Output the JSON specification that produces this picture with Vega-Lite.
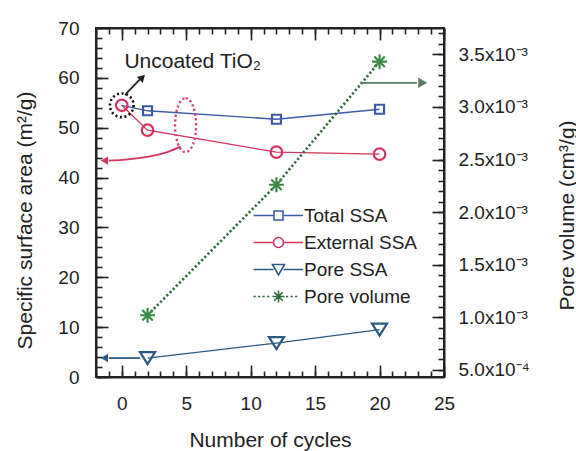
{
  "$schema": "https://vega.github.io/schema/vega-lite/v6.json",
  "width": 348,
  "height": 349,
  "autosize": "none",
  "padding": {"left": 96, "top": 28, "right": 132, "bottom": 74},
  "background": "white",
  "config": {
    "font": "Liberation Sans",
    "view": {"stroke": "#222", "strokeWidth": 2},
    "axis": {
      "grid": false,
      "domainColor": "#222",
      "domainWidth": 2,
      "tickColor": "#222",
      "tickWidth": 1.6,
      "labelFont": "Liberation Sans",
      "labelFontSize": 19,
      "labelColor": "#222",
      "titleFont": "Liberation Sans",
      "titleFontSize": 21,
      "titleFontWeight": "normal",
      "titleColor": "#222"
    }
  },
  "datasets": {
    "ssa": [
      {"series": "Total SSA", "cycles": 0, "value": 54.5},
      {"series": "Total SSA", "cycles": 2, "value": 53.4},
      {"series": "Total SSA", "cycles": 12, "value": 51.7},
      {"series": "Total SSA", "cycles": 20, "value": 53.7},
      {"series": "External SSA", "cycles": 0, "value": 54.5},
      {"series": "External SSA", "cycles": 2, "value": 49.5},
      {"series": "External SSA", "cycles": 12, "value": 45.1},
      {"series": "External SSA", "cycles": 20, "value": 44.7},
      {"series": "Pore SSA", "cycles": 2, "value": 3.8},
      {"series": "Pore SSA", "cycles": 12, "value": 6.8},
      {"series": "Pore SSA", "cycles": 20, "value": 9.5}
    ],
    "pore": [
      {"series": "Pore volume", "cycles": 2, "volume": 0.00102},
      {"series": "Pore volume", "cycles": 12, "volume": 0.00226},
      {"series": "Pore volume", "cycles": 20, "volume": 0.00343}
    ],
    "note": [
      {"x": 5.5, "y": 63.1, "text": "Uncoated TiO₂"}
    ],
    "uncoated": [
      {"x": 0, "y": 54.5}
    ],
    "ellipse": [
      {"x": 4.95, "y": 50.5}
    ],
    "arrows": [
      {"id": "uncoated", "ord": 0, "x": 0.25, "y": 56.6},
      {"id": "uncoated", "ord": 1, "x": 1.4, "y": 59.7},
      {"id": "external", "ord": 0, "x": 4.55, "y": 46.2},
      {"id": "external", "ord": 1, "x": 3.3, "y": 44.8},
      {"id": "external", "ord": 2, "x": 2.2, "y": 44.2},
      {"id": "external", "ord": 3, "x": 0.4, "y": 43.6},
      {"id": "external", "ord": 4, "x": -1.0, "y": 43.4},
      {"id": "pore", "ord": 0, "x": 1.4, "y": 3.8},
      {"id": "pore", "ord": 1, "x": -1.0, "y": 3.8},
      {"id": "volume", "ord": 0, "x": 18.5, "y": 59.0},
      {"id": "volume", "ord": 1, "x": 22.9, "y": 59.0}
    ],
    "headsLeft": [
      {"id": "external", "x": -1.35, "y": 43.4},
      {"id": "pore", "x": -1.35, "y": 3.8}
    ],
    "headsRight": [
      {"id": "volume", "x": 23.35, "y": 59.0}
    ],
    "headsUp": [
      {"id": "uncoated", "x": 1.6, "y": 60.1}
    ]
  },
  "resolve": {
    "scale": {"y": "independent"},
    "axis": {"x": "independent", "y": "independent"}
  },
  "layer": [
    {
      "data": {"name": "ssa"},
      "mark": {"type": "line", "strokeWidth": 1.3},
      "encoding": {
        "x": {
          "field": "cycles", "type": "quantitative",
          "scale": {"domain": [-2, 25], "nice": false, "zero": false},
          "axis": {
            "orient": "bottom", "values": [0, 5, 10, 15, 20, 25],
            "tickSize": -12, "labelPadding": 29, "labelFlush": false,
            "labelOverlap": false, "labelBound": false,
            "title": "Number of cycles", "titleX": 174, "titleY": 63,
            "titleBaseline": "middle", "titleAlign": "center", "titleAnchor": null
          }
        },
        "y": {
          "field": "value", "type": "quantitative",
          "scale": {"domain": [0, 70], "nice": false, "zero": false},
          "axis": {
            "orient": "left", "values": [0, 10, 20, 30, 40, 50, 60, 70],
            "tickSize": -12, "labelPadding": 29, "labelFlush": false,
            "labelOverlap": false, "labelBound": false,
            "title": "Specific surface area (m²/g)", "titleX": -71, "titleY": 192,
            "titleAngle": 270, "titleAlign": "center", "titleBaseline": "middle"
          }
        },
        "color": {
          "field": "series", "type": "nominal",
          "scale": {
            "domain": ["Total SSA", "External SSA", "Pore SSA", "Pore volume"],
            "range": ["#3c5aa8", "#d5345a", "#2b5a82", "#2e6a3a"]
          },
          "legend": {
            "orient": "none", "legendX": 173, "legendY": 178,
            "title": null, "padding": 0,
            "labelFont": "Liberation Sans", "labelFontSize": 19, "labelColor": "#222",
            "labelOffset": 16, "symbolSize": 100, "symbolStrokeWidth": 1.6,
            "rowPadding": 7,
            "encoding": {
              "symbols": {
                "shape": {"value": {"expr": "datum.value === 'Total SSA' ? 'M-5,0H-0.9M0.9,0H4.9M-0.9,-0.9H0.9V0.9H-0.9Z' : datum.value === 'External SSA' ? 'M-5,0H-1M1,0H4.9M-1,0A1,1 0 1,1 1,0A1,1 0 1,1 -1,0' : datum.value === 'Pore SSA' ? 'M-5,0H-1M1,0H4.9M-1.2,-1H1.2L0,1.1Z' : 'M-5,0h0.45m0.45,0h0.45m0.45,0h0.45m0.45,0h0.45M1.5,0h0.45m0.45,0h0.45m0.45,0h0.45M-1.2,0H1.2M0,-1.2V1.2M-0.85,-0.85L0.85,0.85M-0.85,0.85L0.85,-0.85'"}},
                "fill": {"value": "transparent"}
              }
            }
          }
        }
      }
    },
    {
      "data": {"name": "ssa"},
      "transform": [{"filter": "datum.cycles > 0 || datum.series === 'External SSA'"}],
      "mark": {"type": "point", "filled": false, "strokeWidth": 2.2, "opacity": 1, "size": 100},
      "encoding": {
        "x": {"field": "cycles", "type": "quantitative", "scale": {"domain": [-2, 25], "nice": false, "zero": false}, "axis": null},
        "y": {"field": "value", "type": "quantitative", "scale": {"domain": [0, 70], "nice": false, "zero": false}, "axis": null},
        "color": {"field": "series", "type": "nominal", "legend": null},
        "shape": {
          "field": "series", "type": "nominal",
          "scale": {
            "domain": ["Total SSA", "External SSA", "Pore SSA"],
            "range": [
              "M-0.9,-0.9H0.9V0.9H-0.9Z",
              "M-1.15,0A1.15,1.15 0 1,1 1.15,0A1.15,1.15 0 1,1 -1.15,0",
              "M-1.5,-1.2H1.5L0,1.2Z"
            ]
          },
          "legend": null
        }
      }
    },
    {
      "data": {"name": "pore"},
      "mark": {"type": "line", "stroke": "#2e6a3a", "strokeWidth": 2.6, "strokeDash": [2.2, 2.3]},
      "encoding": {
        "x": {
          "field": "cycles", "type": "quantitative",
          "scale": {"domain": [-2, 25], "nice": false, "zero": false},
          "axis": {"orient": "top", "values": [0, 5, 10, 15, 20, 25], "tickSize": -12, "labels": false, "title": null}
        },
        "y": {
          "field": "volume", "type": "quantitative",
          "scale": {"domain": [0.000433, 0.00375], "nice": false, "zero": false},
          "axis": {
            "orient": "right",
            "values": [0.0005, 0.001, 0.0015, 0.002, 0.0025, 0.003, 0.0035],
            "tickSize": -12, "labelPadding": 26, "labelFlush": false,
            "labelOverlap": false, "labelBound": false,
            "labelExpr": "datum.value < 0.0007 ? '5.0x10⁻⁴' : format(datum.value * 1000, '.1f') + 'x10⁻³'",
            "title": "Pore volume (cm³/g)", "titleX": 123, "titleY": 187,
            "titleAngle": 270, "titleAlign": "center", "titleBaseline": "middle"
          }
        }
      }
    },
    {
      "data": {"name": "pore"},
      "mark": {"type": "point", "filled": false, "stroke": "#3d8a46", "strokeWidth": 2.2, "size": 100, "opacity": 1,
        "shape": "M-1.5,0H1.5M0,-1.5V1.5M-1.05,-1.05L1.05,1.05M-1.05,1.05L1.05,-1.05"},
      "encoding": {
        "x": {"field": "cycles", "type": "quantitative", "scale": {"domain": [-2, 25], "nice": false, "zero": false}, "axis": null},
        "y": {"field": "volume", "type": "quantitative", "scale": {"domain": [0.000433, 0.00375], "nice": false, "zero": false}, "axis": null}
      }
    },
    {
      "data": {"name": "ssa"},
      "mark": {"type": "point", "opacity": 0},
      "encoding": {
        "x": {
          "field": "cycles", "type": "quantitative",
          "scale": {"domain": [-2, 25], "nice": false, "zero": false},
          "axis": {"orient": "bottom", "values": [-2, -1, 0, 1, 2, 3, 4, 5, 6, 7, 8, 9, 10, 11, 12, 13, 14, 15, 16, 17, 18, 19, 20, 21, 22, 23, 24, 25], "tickSize": -6, "labels": false, "domain": false, "title": null}
        },
        "y": {
          "field": "value", "type": "quantitative",
          "scale": {"domain": [0, 70], "nice": false, "zero": false},
          "axis": {"orient": "left", "values": [0, 2, 4, 6, 8, 10, 12, 14, 16, 18, 20, 22, 24, 26, 28, 30, 32, 34, 36, 38, 40, 42, 44, 46, 48, 50, 52, 54, 56, 58, 60, 62, 64, 66, 68, 70], "tickSize": -6, "labels": false, "domain": false, "title": null}
        }
      }
    },
    {
      "data": {"name": "pore"},
      "mark": {"type": "point", "opacity": 0},
      "encoding": {
        "x": {
          "field": "cycles", "type": "quantitative",
          "scale": {"domain": [-2, 25], "nice": false, "zero": false},
          "axis": {"orient": "top", "values": [-2, -1, 0, 1, 2, 3, 4, 5, 6, 7, 8, 9, 10, 11, 12, 13, 14, 15, 16, 17, 18, 19, 20, 21, 22, 23, 24, 25], "tickSize": -6, "labels": false, "domain": false, "title": null}
        },
        "y": {
          "field": "volume", "type": "quantitative",
          "scale": {"domain": [0.000433, 0.00375], "nice": false, "zero": false},
          "axis": {"orient": "right", "values": [0.0005, 0.0006, 0.0007, 0.0008, 0.0009, 0.001, 0.0011, 0.0012, 0.0013, 0.0014, 0.0015, 0.0016, 0.0017, 0.0018, 0.0019, 0.002, 0.0021, 0.0022, 0.0023, 0.0024, 0.0025, 0.0026, 0.0027, 0.0028, 0.0029, 0.003, 0.0031, 0.0032, 0.0033, 0.0034, 0.0035, 0.0036, 0.0037], "tickSize": -6, "labels": false, "domain": false, "title": null}
        }
      }
    },
    {
      "data": {"name": "note"},
      "mark": {"type": "text", "font": "Liberation Sans", "fontSize": 21, "color": "#222", "align": "center", "baseline": "middle"},
      "encoding": {
        "x": {"field": "x", "type": "quantitative", "scale": {"domain": [-2, 25], "nice": false, "zero": false}, "axis": null},
        "y": {"field": "y", "type": "quantitative", "scale": {"domain": [0, 70], "nice": false, "zero": false}, "axis": null},
        "text": {"field": "text"}
      }
    },
    {
      "data": {"name": "uncoated"},
      "mark": {"type": "point", "shape": "circle", "filled": false, "size": 560, "stroke": "#111", "strokeWidth": 2.6, "strokeDash": [2, 2.6], "opacity": 1},
      "encoding": {
        "x": {"field": "x", "type": "quantitative", "scale": {"domain": [-2, 25], "nice": false, "zero": false}, "axis": null},
        "y": {"field": "y", "type": "quantitative", "scale": {"domain": [0, 70], "nice": false, "zero": false}, "axis": null}
      }
    },
    {
      "data": {"name": "ellipse"},
      "mark": {"type": "point", "shape": "M0,-1A0.39,1 0 1,1 0,1A0.39,1 0 1,1 0,-1", "filled": false, "size": 2916, "stroke": "#d8407a", "strokeWidth": 2.4, "strokeDash": [2.2, 2.6], "opacity": 1},
      "encoding": {
        "x": {"field": "x", "type": "quantitative", "scale": {"domain": [-2, 25], "nice": false, "zero": false}, "axis": null},
        "y": {"field": "y", "type": "quantitative", "scale": {"domain": [0, 70], "nice": false, "zero": false}, "axis": null}
      }
    },
    {
      "data": {"name": "arrows"},
      "mark": {"type": "line", "interpolate": "basis", "strokeWidth": 1.8},
      "encoding": {
        "x": {"field": "x", "type": "quantitative", "scale": {"domain": [-2, 25], "nice": false, "zero": false}, "axis": null},
        "y": {"field": "y", "type": "quantitative", "scale": {"domain": [0, 70], "nice": false, "zero": false}, "axis": null},
        "detail": {"field": "id"},
        "order": {"field": "ord", "type": "quantitative"},
        "stroke": {
          "field": "id", "type": "nominal",
          "scale": {"domain": ["uncoated", "external", "pore", "volume"], "range": ["#222222", "#d5345a", "#2b5a82", "#5a7d66"]},
          "legend": null
        }
      }
    },
    {
      "data": {"name": "headsLeft"},
      "mark": {"type": "point", "shape": "triangle-left", "filled": true, "size": 70, "opacity": 1},
      "encoding": {
        "x": {"field": "x", "type": "quantitative", "scale": {"domain": [-2, 25], "nice": false, "zero": false}, "axis": null},
        "y": {"field": "y", "type": "quantitative", "scale": {"domain": [0, 70], "nice": false, "zero": false}, "axis": null},
        "fill": {
          "field": "id", "type": "nominal",
          "scale": {"domain": ["uncoated", "external", "pore", "volume"], "range": ["#222222", "#d5345a", "#2b5a82", "#5a7d66"]},
          "legend": null
        }
      }
    },
    {
      "data": {"name": "headsRight"},
      "mark": {"type": "point", "shape": "triangle-right", "filled": true, "size": 110, "opacity": 1},
      "encoding": {
        "x": {"field": "x", "type": "quantitative", "scale": {"domain": [-2, 25], "nice": false, "zero": false}, "axis": null},
        "y": {"field": "y", "type": "quantitative", "scale": {"domain": [0, 70], "nice": false, "zero": false}, "axis": null},
        "fill": {"field": "id", "type": "nominal", "legend": null}
      }
    },
    {
      "data": {"name": "headsUp"},
      "mark": {"type": "point", "shape": "triangle-up", "angle": 45, "filled": true, "size": 70, "opacity": 1},
      "encoding": {
        "x": {"field": "x", "type": "quantitative", "scale": {"domain": [-2, 25], "nice": false, "zero": false}, "axis": null},
        "y": {"field": "y", "type": "quantitative", "scale": {"domain": [0, 70], "nice": false, "zero": false}, "axis": null},
        "fill": {"field": "id", "type": "nominal", "legend": null}
      }
    }
  ]
}
